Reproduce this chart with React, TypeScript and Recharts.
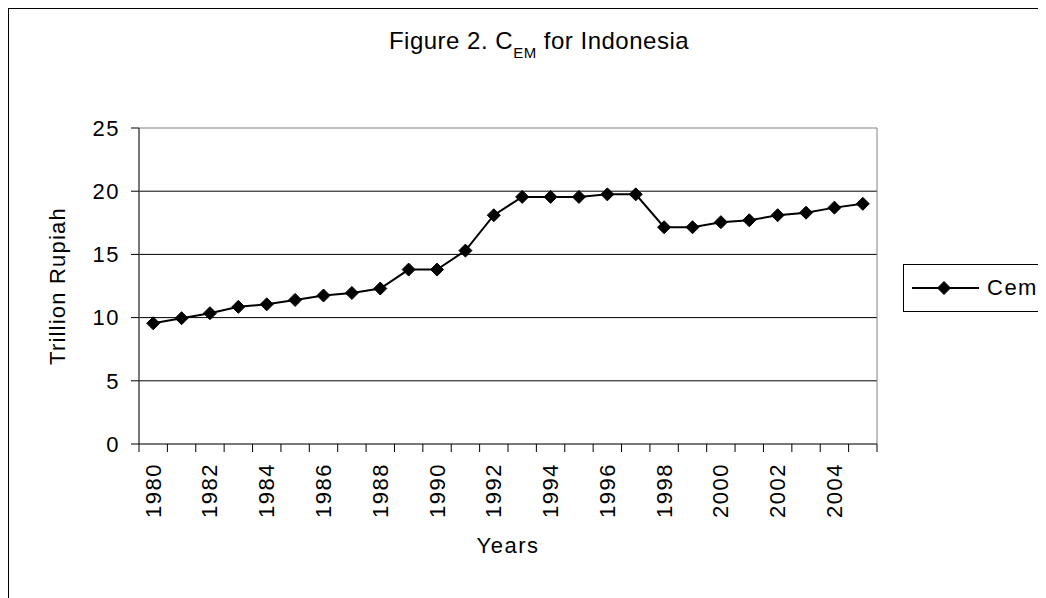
import React from "react";
import {
  LineChart,
  Line,
  XAxis,
  YAxis,
  CartesianGrid,
  Legend,
  ReferenceArea,
} from "recharts";

const years = [
  1980, 1981, 1982, 1983, 1984, 1985, 1986, 1987, 1988, 1989, 1990, 1991, 1992,
  1993, 1994, 1995, 1996, 1997, 1998, 1999, 2000, 2001, 2002, 2003, 2004, 2005,
];
const cemValues = [
  9.55, 9.95, 10.35, 10.85, 11.05, 11.4, 11.75, 11.95, 12.3, 13.8, 13.8, 15.3,
  18.1, 19.55, 19.55, 19.55, 19.75, 19.75, 17.15, 17.15, 17.55, 17.7, 18.1,
  18.3, 18.7, 19.0,
];
const yTicks = [0, 5, 10, 15, 20, 25];
const gridValues = [5, 10, 15, 20];
const labelYears = years.filter((y) => y % 2 === 0);

const data = years.map((year, i) => ({ year, value: cemValues[i] }));
// category boundaries for the tick marks, labels sit on the even years
const boundaries = [...years.map((y) => y - 0.5), years[years.length - 1] + 0.5];
const xTicks = [...boundaries, ...labelYears].sort((a, b) => a - b);
const xDomain = [boundaries[0], boundaries[boundaries.length - 1]];

const FONT = "'Liberation Sans', Arial, sans-serif";
const FS = 22;
const LS = 1.5;

function Diamond({ cx, cy, r = 6.5 }: { cx: number; cy: number; r?: number }) {
  return (
    <path
      d={`M${cx},${cy - r} L${cx + r},${cy} L${cx},${cy + r} L${cx - r},${cy} Z`}
      fill="#000"
      stroke="#000"
    />
  );
}

function renderDot(props: any) {
  const { cx, cy, index } = props;
  if (cx == null || cy == null) return <g key={index} />;
  return <Diamond key={index} cx={cx} cy={cy} />;
}

function YearTick(props: any) {
  const { x, y, payload } = props;
  const v = payload.value;
  if (!Number.isInteger(v)) {
    return <line x1={x} y1={y} x2={x} y2={y + 8} stroke="#000" />;
  }
  return (
    <text
      x={x}
      y={y + 19}
      transform={`rotate(-90, ${x}, ${y + 19})`}
      textAnchor="end"
      dominantBaseline="central"
      fontSize={FS}
      letterSpacing={LS}
      fill="#000"
    >
      {v}
    </text>
  );
}

function CemLegend() {
  return (
    <div
      style={{
        boxSizing: "border-box",
        width: 143,
        height: 48,
        border: "1px solid #000",
        background: "#fff",
        display: "flex",
        alignItems: "center",
        fontFamily: FONT,
        fontSize: FS,
        letterSpacing: LS,
      }}
    >
      <svg width={80} height={46}>
        <line x1={8} y1={23} x2={75} y2={23} stroke="#000" strokeWidth={2} />
        <Diamond cx={40} cy={23} />
      </svg>
      <span style={{ marginLeft: 3 }}>Cem</span>
    </div>
  );
}

export default function App() {
  return (
    <div
      style={{
        position: "relative",
        width: 1037,
        height: 589,
        borderTop: "1px solid #000",
        borderLeft: "1px solid #000",
        fontFamily: FONT,
        background: "#fff",
      }}
    >
      <LineChart
        width={1037}
        height={589}
        data={data}
        margin={{ top: 119, right: 169, bottom: 34, left: 0 }}
      >
        <CartesianGrid
          horizontal
          vertical={false}
          horizontalValues={gridValues}
          stroke="#000"
        />
        <ReferenceArea
          x1={xDomain[0]}
          x2={xDomain[1]}
          y1={0}
          y2={25}
          fill="none"
          stroke="#808080"
          ifOverflow="visible"
        />
        <XAxis
          dataKey="year"
          type="number"
          domain={xDomain}
          ticks={xTicks}
          interval={0}
          tickLine={false}
          tickSize={0}
          tickMargin={0}
          tick={<YearTick />}
          axisLine={{ stroke: "#333" }}
          height={120}
          label={{
            value: "Years",
            position: "insideBottom",
            offset: 11,
            fontSize: FS,
            letterSpacing: LS,
            fill: "#000",
          }}
        />
        <YAxis
          domain={[0, 25]}
          ticks={yTicks}
          interval={0}
          width={130}
          tickSize={8}
          tickMargin={11}
          tickLine={{ stroke: "#000" }}
          axisLine={{ stroke: "#333" }}
          tick={{ fontSize: FS, letterSpacing: LS, fill: "#000" }}
          label={{
            value: "Trillion Rupiah",
            angle: -90,
            position: "center",
            dx: -17,
            fontSize: FS,
            letterSpacing: 1.2,
            fill: "#000",
          }}
        />
        <Legend
          layout="vertical"
          align="center"
          verticalAlign="middle"
          content={<CemLegend />}
          wrapperStyle={{ left: 894, top: 255, width: 143, height: 48 }}
        />
        <Line
          type="linear"
          dataKey="value"
          name="Cem"
          stroke="#000"
          strokeWidth={2}
          dot={renderDot}
          activeDot={false}
          isAnimationActive={false}
        />
      </LineChart>
      <svg
        width={1037}
        height={60}
        style={{ position: "absolute", left: 0, top: 0, pointerEvents: "none" }}
      >
        <text x={530} y={40} textAnchor="middle" fontSize={24} letterSpacing={0.5} fill="#000">
          Figure 2. C
          <tspan fontSize={15} dy={9}>
            EM
          </tspan>
          <tspan dy={-9}> for Indonesia</tspan>
        </text>
      </svg>
    </div>
  );
}
